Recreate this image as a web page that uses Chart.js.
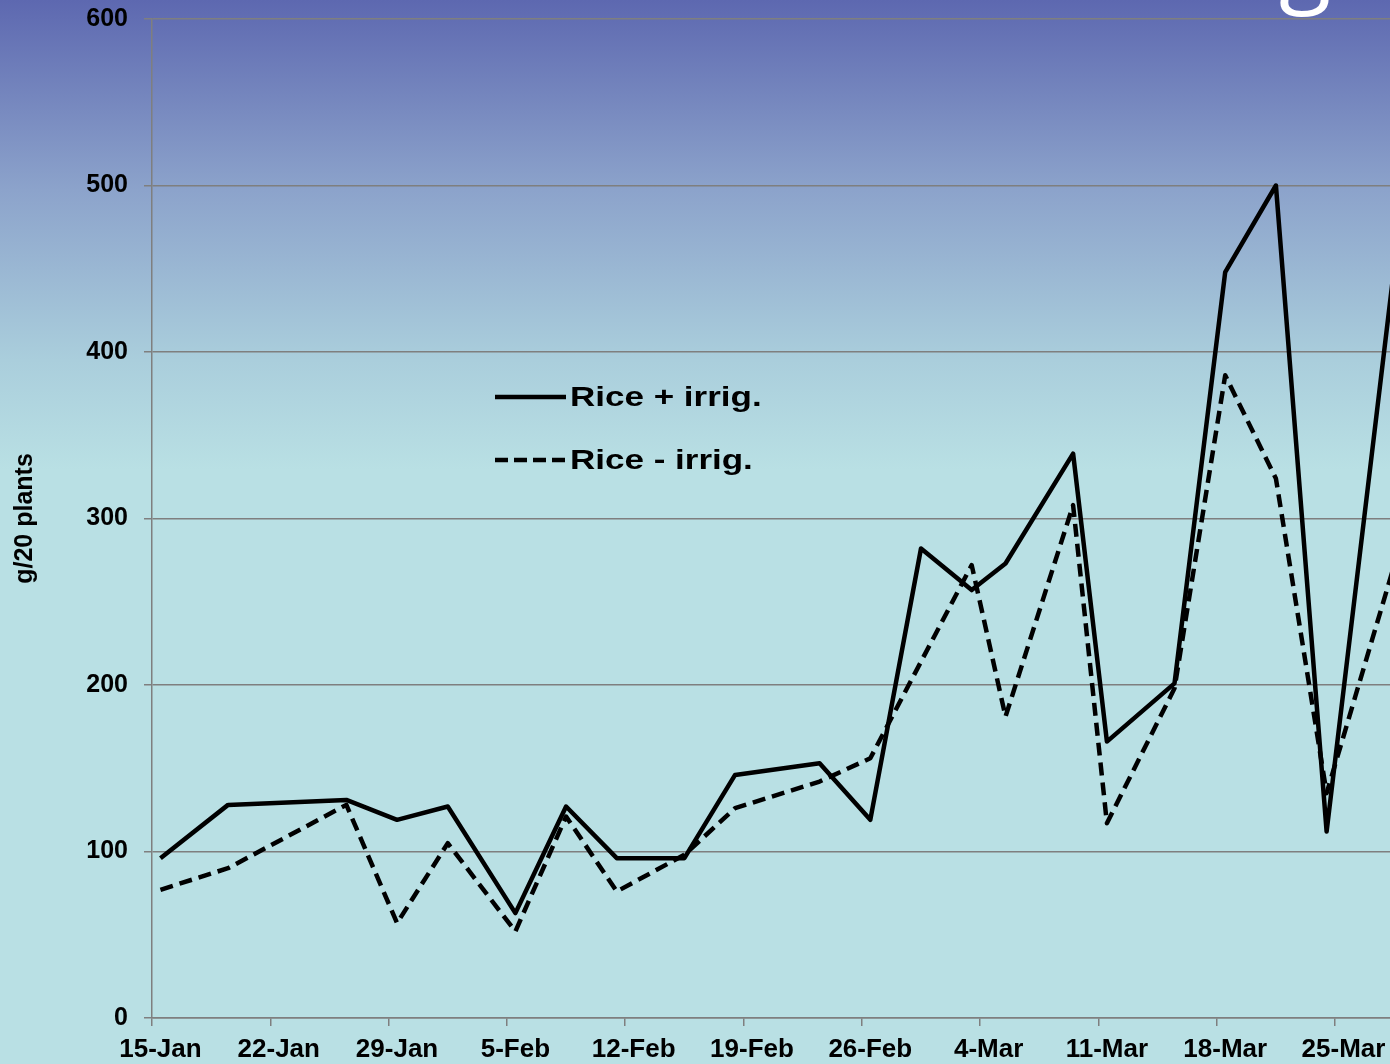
<!DOCTYPE html>
<html>
<head>
<meta charset="utf-8">
<title>Rice biomass</title>
<script src="https://cdn.jsdelivr.net/npm/chart.js@4.4.1/dist/chart.umd.min.js"></script>
<style>
  html, body { margin: 0; padding: 0; overflow: hidden; }
  body {
    width: 1390px; height: 1064px;
    background: linear-gradient(to bottom, #5d68b0 0px, #8ca3cb 190px, #aacedc 360px, #b9e0e4 470px, #b9e0e4 1064px);
  }
  canvas { display: block; }
</style>
</head>
<body>
<canvas id="chart" width="1390" height="1064"></canvas>
<script>
// Sampling dates (season starting 15 Jan, leap year)
const seasonStart = '2012-01-15';
const sampleDates = [
  '2012-01-15', '2012-01-19', '2012-01-26', '2012-01-29', '2012-02-01', '2012-02-05',
  '2012-02-08', '2012-02-11', '2012-02-15', '2012-02-18', '2012-02-23', '2012-02-26',
  '2012-02-29', '2012-03-03', '2012-03-05', '2012-03-09', '2012-03-11', '2012-03-15',
  '2012-03-18', '2012-03-21', '2012-03-24', '2012-03-28'
];

// Biomass, g per 20 plants
const riceIrrigated = [96, 128, 131, 119, 127, 63, 127, 96, 96, 146, 153, 119,
                       282, 257, 273, 339, 166, 201, 448, 500, 112, 451];
const riceNotIrrigated = [77, 90, 128, 57, 105, 52, 121, 76, 98, 126, 142, 156,
                          null, 272, 181, 308, 117, 198, 386, 324, 135, 272];

const seriesNames = ['Rice + irrig.', 'Rice - irrig.'];
const xTickLabels = ['15-Jan', '22-Jan', '29-Jan', '5-Feb', '12-Feb', '19-Feb',
                     '26-Feb', '4-Mar', '11-Mar', '18-Mar', '25-Mar'];
const yTickValues = [0, 100, 200, 300, 400, 500, 600];
const yTitle = 'g/20 plants';

const MONTHS = ['Jan', 'Feb', 'Mar', 'Apr', 'May', 'Jun', 'Jul', 'Aug', 'Sep', 'Oct', 'Nov', 'Dec'];
const DAY_MS = 86400000;
const startMs = Date.parse(seasonStart + 'T00:00:00Z');
const dayOf = iso => Math.round((Date.parse(iso + 'T00:00:00Z') - startMs) / DAY_MS);
const dayOfLabel = lbl => {
  const [d, m] = lbl.split('-');
  return Math.round((Date.UTC(2012, MONTHS.indexOf(m), +d) - startMs) / DAY_MS);
};

const toPoints = values => sampleDates.map((d, i) => ({ x: dayOf(d), y: values[i] }));

// Each day spans one unit; tick marks sit on day boundaries, samples mid-day
const xTickPositions = xTickLabels.map(l => dayOfLabel(l) - 0.5);
const xMin = -0.5;
const xMax = 72.75;

const FONT = '"Liberation Sans", Arial, sans-serif';
const AXIS_GREY = '#7f7f7f';
const LINE_W = 4.5;

const inlineLegend = {
  id: 'inlineLegend',
  afterDatasetsDraw(chart) {
    const ctx = chart.ctx;
    const rows = [{ y: 397, base: 406 }, { y: 460, base: 469 }];
    chart.data.datasets.forEach((ds, i) => {
      const r = rows[i];
      ctx.save();
      ctx.strokeStyle = ds.borderColor;
      ctx.lineWidth = LINE_W;
      ctx.lineCap = 'butt';
      ctx.setLineDash(i === 1 ? [13, 6] : []);
      ctx.beginPath();
      ctx.moveTo(495, r.y);
      ctx.lineTo(566, r.y);
      ctx.stroke();
      ctx.setLineDash([]);
      ctx.font = 'bold 28px ' + FONT;
      ctx.fillStyle = '#000';
      ctx.textBaseline = 'alphabetic';
      ctx.textAlign = 'left';
      ctx.translate(570, r.base);
      ctx.scale(1.25, 1);
      ctx.fillText(ds.label, 0, 0);
      ctx.restore();
    });
  }
};

// Tail of the heading that sits above the chart
const headingTail = {
  id: 'headingTail',
  afterDraw(chart) {
    const ctx = chart.ctx;
    ctx.save();
    ctx.font = '96px "Open Sans", sans-serif';
    ctx.fillStyle = '#ffffff';
    ctx.textAlign = 'center';
    ctx.textBaseline = 'alphabetic';
    ctx.fillText('g', 1305, -6);
    ctx.restore();
  }
};

new Chart(document.getElementById('chart'), {
  type: 'line',
  data: {
    datasets: [
      {
        label: seriesNames[0],
        data: toPoints(riceIrrigated),
        borderColor: '#000000',
        borderWidth: LINE_W,
        pointRadius: 0,
        tension: 0,
        borderJoinStyle: 'round',
        fill: false
      },
      {
        label: seriesNames[1],
        data: toPoints(riceNotIrrigated),
        borderColor: '#000000',
        borderWidth: LINE_W,
        borderDash: [13, 7],
        pointRadius: 0,
        tension: 0,
        borderJoinStyle: 'round',
        spanGaps: true,
        fill: false
      }
    ]
  },
  options: {
    responsive: false,
    animation: false,
    events: [],
    layout: { padding: { top: 19, right: 0, bottom: 0, left: 0 } },
    plugins: {
      legend: { display: false },
      tooltip: { enabled: false },
      title: { display: false }
    },
    scales: {
      x: {
        type: 'linear',
        min: xMin,
        max: xMax,
        afterBuildTicks: scale => {
          scale.ticks = xTickPositions.map(v => ({ value: v }));
        },
        afterFit: scale => {
          scale.height = 46;
          scale.paddingLeft = 0;
          scale.paddingRight = 0;
        },
        ticks: {
          autoSkip: false,
          maxRotation: 0,
          minRotation: 0,
          padding: 8,
          labelOffset: 8.45,
          color: '#000',
          font: { family: FONT, size: 26, weight: 'bold' },
          callback: (value, index) => xTickLabels[index]
        },
        grid: {
          drawOnChartArea: false,
          drawTicks: true,
          tickLength: 8,
          color: AXIS_GREY,
          lineWidth: 1.5
        },
        border: { display: true, color: AXIS_GREY, width: 1.5 }
      },
      y: {
        min: 0,
        max: 600,
        afterBuildTicks: scale => {
          scale.ticks = yTickValues.map(v => ({ value: v }));
        },
        afterFit: scale => {
          scale.width = 152;
          scale.paddingTop = 0;
          scale.paddingBottom = 0;
        },
        ticks: {
          padding: 16,
          color: '#000',
          font: { family: FONT, size: 25, weight: 'bold' }
        },
        grid: {
          color: AXIS_GREY,
          lineWidth: 1.5,
          tickLength: 8
        },
        border: { display: true, color: AXIS_GREY, width: 1.5 },
        title: {
          display: true,
          text: yTitle,
          color: '#000',
          font: { family: FONT, size: 25, weight: 'bold' },
          padding: { top: 10, bottom: 0 }
        }
      }
    }
  },
  plugins: [inlineLegend, headingTail]
});
</script>
</body>
</html>
